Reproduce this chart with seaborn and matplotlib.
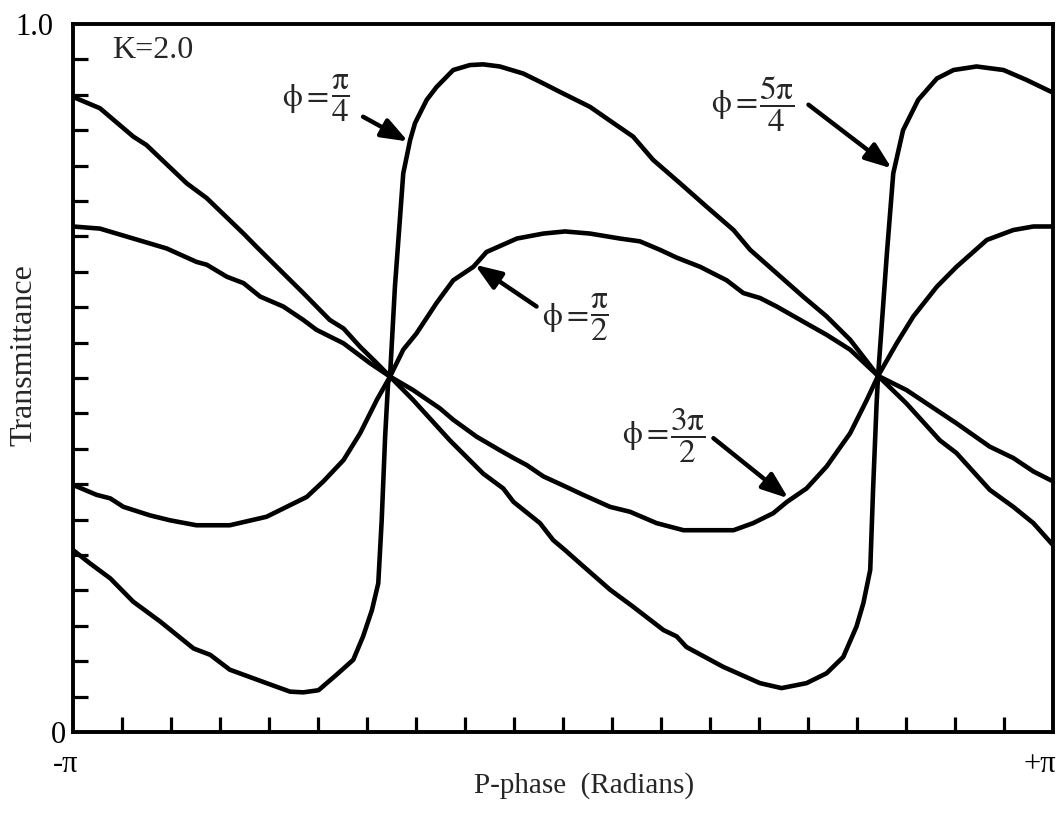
import numpy as np
import pandas as pd
import matplotlib
matplotlib.use("Agg")
import matplotlib.pyplot as plt
import matplotlib.transforms as mtransforms
from matplotlib.ticker import FixedLocator
import seaborn as sns

# P-phase is stored in units of pi, transmittance is dimensionless (K = 2.0)
phase_pi4 = [-1.0, -0.965, -0.924, -0.877, -0.822, -0.754, -0.720, -0.680, -0.605, -0.557,
             -0.530, -0.499, -0.462, -0.428, -0.408, -0.390, -0.377, -0.370, -0.363, -0.357,
             -0.353, -0.343, -0.333, -0.326, -0.312, -0.302, -0.278, -0.258, -0.224, -0.190,
             -0.163, -0.129, -0.081, -0.040, -0.006, 0.055, 0.103, 0.143, 0.184, 0.239,
             0.293, 0.348, 0.382, 0.436, 0.490, 0.538, 0.586, 0.643, 0.701, 0.769,
             0.803, 0.871, 0.919, 0.960, 1.0]
trans_pi4 = [0.257, 0.238, 0.217, 0.184, 0.156, 0.118, 0.109, 0.088, 0.069, 0.057,
             0.056, 0.059, 0.081, 0.102, 0.135, 0.172, 0.210, 0.299, 0.417, 0.493,
             0.502, 0.629, 0.723, 0.789, 0.836, 0.860, 0.893, 0.911, 0.935, 0.942,
             0.943, 0.940, 0.930, 0.916, 0.904, 0.883, 0.860, 0.841, 0.808, 0.775,
             0.742, 0.709, 0.681, 0.648, 0.615, 0.587, 0.554, 0.503, 0.464, 0.412,
             0.394, 0.342, 0.318, 0.295, 0.264]

phase_5pi4 = [-1.0, -0.945, -0.877, -0.850, -0.768, -0.727, -0.652, -0.625, -0.571, -0.530,
              -0.496, -0.476, -0.448, -0.414, -0.380, -0.353, -0.306, -0.231, -0.163, -0.122,
              -0.101, -0.047, -0.020, 0.004, 0.035, 0.096, 0.143, 0.205, 0.232, 0.252,
              0.327, 0.402, 0.446, 0.497, 0.538, 0.572, 0.599, 0.613, 0.627, 0.633,
              0.640, 0.643, 0.661, 0.674, 0.694, 0.725, 0.763, 0.797, 0.844, 0.899,
              0.946, 1.0]
trans_5pi4 = [0.897, 0.881, 0.841, 0.829, 0.775, 0.754, 0.704, 0.685, 0.648, 0.620,
              0.596, 0.582, 0.570, 0.544, 0.521, 0.502, 0.469, 0.412, 0.365, 0.344,
              0.325, 0.295, 0.271, 0.257, 0.238, 0.201, 0.177, 0.144, 0.135, 0.120,
              0.092, 0.069, 0.062, 0.069, 0.083, 0.106, 0.149, 0.182, 0.229, 0.346,
              0.464, 0.503, 0.676, 0.789, 0.850, 0.893, 0.923, 0.935, 0.940, 0.935,
              0.921, 0.903]

phase_pi2 = [-1.0, -0.952, -0.924, -0.897, -0.843, -0.802, -0.748, -0.680, -0.605, -0.564,
             -0.523, -0.489, -0.448, -0.414, -0.380, -0.353, -0.326, -0.299, -0.258, -0.224,
             -0.183, -0.156, -0.094, -0.040, 0.004, 0.055, 0.116, 0.157, 0.198, 0.232,
             0.280, 0.334, 0.368, 0.402, 0.436, 0.497, 0.538, 0.586, 0.643, 0.701,
             0.803, 0.871, 0.919, 0.960, 1.0]
trans_pi2 = [0.349, 0.335, 0.330, 0.318, 0.306, 0.299, 0.292, 0.292, 0.304, 0.318,
             0.332, 0.354, 0.384, 0.422, 0.469, 0.502, 0.540, 0.563, 0.606, 0.638,
             0.657, 0.678, 0.697, 0.704, 0.707, 0.704, 0.697, 0.693, 0.681, 0.670,
             0.657, 0.638, 0.620, 0.613, 0.601, 0.577, 0.561, 0.540, 0.503, 0.483,
             0.436, 0.403, 0.387, 0.368, 0.354]

phase_3pi2 = [-1.0, -0.945, -0.877, -0.809, -0.748, -0.727, -0.686, -0.652, -0.618, -0.571,
              -0.530, -0.503, -0.448, -0.394, -0.353, -0.306, -0.251, -0.224, -0.176, -0.129,
              -0.101, -0.074, -0.040, 0.004, 0.041, 0.096, 0.137, 0.191, 0.246, 0.348,
              0.388, 0.429, 0.457, 0.497, 0.538, 0.586, 0.620, 0.643, 0.681, 0.715,
              0.763, 0.803, 0.865, 0.919, 0.960, 1.0]
trans_3pi2 = [0.714, 0.711, 0.697, 0.683, 0.664, 0.660, 0.643, 0.634, 0.615, 0.601,
              0.582, 0.568, 0.549, 0.521, 0.502, 0.483, 0.457, 0.441, 0.417, 0.398,
              0.387, 0.377, 0.361, 0.347, 0.335, 0.318, 0.311, 0.295, 0.285, 0.285,
              0.295, 0.309, 0.325, 0.344, 0.375, 0.422, 0.469, 0.503, 0.549, 0.587,
              0.629, 0.657, 0.695, 0.709, 0.714, 0.714]

curve_names = ["pi/4", "5pi/4", "pi/2", "3pi/2"]
curve_phase = [phase_pi4, phase_5pi4, phase_pi2, phase_3pi2]
curve_trans = [trans_pi4, trans_5pi4, trans_pi2, trans_3pi2]

# curve labels: fraction, text anchor (phase/pi, T), arrow tail, arrow tip
label_frac = [r"$\dfrac{\mathrm{\pi}}{4}$", r"$\dfrac{\mathrm{\pi}}{2}$",
              r"$\dfrac{3\mathrm{\pi}}{2}$", r"$\dfrac{5\mathrm{\pi}}{4}$"]
label_pos = [(-0.573, 0.895), (-0.043, 0.586), (0.120, 0.419), (0.302, 0.886)]
arrow_tail = [(-0.408, 0.869), (-0.054, 0.601), (0.307, 0.415), (0.501, 0.886)]
arrow_tip = [(-0.316, 0.834), (-0.180, 0.660), (0.460, 0.330), (0.671, 0.796)]

frames = []
for name, ph, tr in zip(curve_names, curve_phase, curve_trans):
    frames.append(pd.DataFrame({"phase": np.array(ph) * np.pi, "T": tr, "phi": name}))
df = pd.concat(frames, ignore_index=True)

sns.set_style("white")
plt.rcParams["font.family"] = ["Liberation Serif", "DejaVu Serif"]
plt.rcParams["mathtext.fontset"] = "stix"

fig = plt.figure(figsize=(10.6, 8.24), dpi=100)
ax = fig.add_axes([73 / 1060, 92 / 824, 980 / 1060, 708 / 824])

sns.lineplot(data=df, x="phase", y="T", units="phi", estimator=None, sort=False,
             color="black", lw=3.3, ax=ax, legend=False)

ax.set_xlim(-np.pi, np.pi)
ax.set_ylim(0, 1)

for sp in ax.spines.values():
    sp.set_color("black")
    sp.set_linewidth(2.8)

# x axis: labels only at the ends, inward minor ticks every pi/10
ax.set_xticks([-np.pi, np.pi], ["-\u03c0", "+\u03c0"])
ax.xaxis.set_minor_locator(FixedLocator(np.arange(-9, 10) * np.pi / 10))
ax.tick_params(axis="x", which="major", length=0, pad=13, labelsize=22, colors="black")
ax.tick_params(axis="x", which="minor", direction="in", length=11, width=2.3,
               bottom=True, top=False, color="black")

# y axis: labels at 0 and 1.0, inward minor ticks every 0.05
ax.set_yticks([0, 1], ["0", "1.0"])
ax.yaxis.set_minor_locator(FixedLocator(np.arange(1, 20) * 0.05))
ax.tick_params(axis="y", which="major", length=0, pad=5, labelsize=22, colors="black")
ax.tick_params(axis="y", which="minor", direction="in", length=11, width=2.3,
               left=True, right=False, color="black")

ax.set_xlabel("P-phase  (Radians)", fontsize=21)
ax.set_ylabel("Transmittance", fontsize=23)
ax.xaxis.set_label_coords(0.522, -0.056)
ax.yaxis.set_label_coords(-0.035, 0.532)

ax.text(-0.920 * np.pi, 0.962, "K=2.0", fontsize=23, ha="left", va="center")

for frac, pos, tail, tip in zip(label_frac, label_pos, arrow_tail, arrow_tip):
    head = ax.text(pos[0] * np.pi, pos[1], r"$\mathrm{\phi}=$", fontsize=23,
                   ha="left", va="center")
    ax.annotate(frac, xy=(1, 0.5), xycoords=head, xytext=(1, 0),
                textcoords="offset points", fontsize=24, ha="left", va="center")
    ax.annotate("", xy=(tip[0] * np.pi, tip[1]), xytext=(tail[0] * np.pi, tail[1]),
                arrowprops=dict(arrowstyle="-|>,head_length=0.8,head_width=0.3",
                                lw=3.2, color="black", shrinkA=0, shrinkB=0,
                                mutation_scale=20))

fig.canvas.draw()


def shift(label, dx_px):
    label.set_transform(label.get_transform()
                        + mtransforms.ScaledTranslation(dx_px / 100, 0, fig.dpi_scale_trans))


shift(ax.yaxis.get_majorticklabels()[1], -13)
shift(ax.xaxis.get_majorticklabels()[0], -7)
shift(ax.xaxis.get_majorticklabels()[1], -13)

fig.savefig("out.png", dpi=100, facecolor="white")
